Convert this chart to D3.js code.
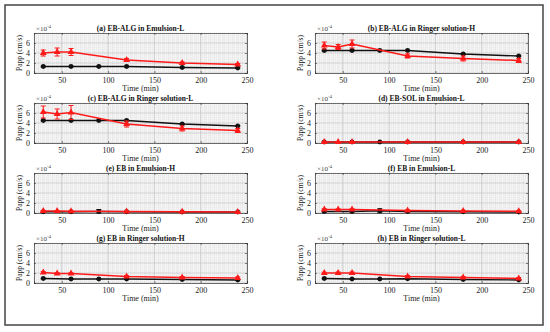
<!DOCTYPE html>
<html>
<head>
<meta charset="utf-8">
<script src="https://cdn.jsdelivr.net/npm/d3@7"></script>
<style>
  body { margin: 0; background: #fff; }
  svg { display: block; font-family: "Liberation Serif", "DejaVu Serif", serif; }
</style>
</head>
<body>
<svg class="board"></svg>
<script>
var timesBlack = [30, 60, 90, 120, 180, 240];
var timesRed = [30, 45, 60, 120, 180, 240];

var titles = [
  '(a) EB-ALG in Emulsion-L',
  '(b) EB-ALG in Ringer solution-H',
  '(c) EB-ALG in Ringer solution-L',
  '(d) EB-SOL in Emulsion-L',
  '(e) EB in Emulsion-H',
  '(f) EB in Emulsion-L',
  '(g) EB in Ringer solution-H',
  '(h) EB in Ringer solution-L'
];

// values in units of 1e-4 cm/s
var blackA = [1.3, 1.3, 1.3, 1.3, 1.1, 1.0];
var redA = [4.0, 4.2, 4.2, 2.6, 2.0, 1.7];
var redErrA = [0.6, 0.8, 0.7, 0.3, 0.2, 0.2];
var blackB = [4.5, 4.5, 4.5, 4.5, 3.8, 3.4];
var redB = [5.5, 5.2, 5.8, 3.4, 2.9, 2.5];
var redErrB = [0.7, 0.5, 0.8, 0.4, 0.5, 0.4];
var blackC = [4.5, 4.5, 4.5, 4.5, 3.8, 3.4];
var redC = [6.2, 5.8, 6.1, 3.8, 2.9, 2.5];
var redErrC = [1.2, 1.0, 1.4, 0.6, 0.5, 0.4];
var blackD = [0.2, 0.2, 0.2, 0.2, 0.2, 0.2];
var redD = [0.2, 0.2, 0.2, 0.2, 0.2, 0.2];
var redErrD = [0.05, 0.05, 0.05, 0.05, 0.05, 0.05];
var blackE = [0.25, 0.25, 0.3, 0.25, 0.2, 0.2];
var redE = [0.4, 0.4, 0.35, 0.3, 0.25, 0.2];
var redErrE = [0.1, 0.1, 0.1, 0.1, 0.1, 0.1];
var blackF = [0.3, 0.3, 0.45, 0.3, 0.25, 0.2];
var redF = [0.7, 0.7, 0.7, 0.5, 0.4, 0.35];
var redErrF = [0.15, 0.1, 0.15, 0.1, 0.1, 0.1];
var blackG = [0.9, 0.8, 0.8, 0.8, 0.7, 0.6];
var redG = [2.1, 1.9, 1.9, 1.3, 1.1, 1.0];
var redErrG = [0.2, 0.15, 0.15, 0.2, 0.2, 0.2];
var blackH = [0.9, 0.8, 0.8, 0.85, 0.7, 0.6];
var redH = [2.0, 2.0, 2.0, 1.3, 1.1, 0.9];
var redErrH = [0.15, 0.2, 0.2, 0.2, 0.2, 0.2];

var blackErr = [0.1, 0.1, 0.4, 0.1, 0.1, 0.1];
var blackErrB = [0.1, 0.1, 0.1, 0.1, 0.1, 0.1];

var blackSeries = [blackA, blackB, blackC, blackD, blackE, blackF, blackG, blackH];
var blackErrs = [blackErrB, blackErrB, blackErrB, blackErrB, blackErr, blackErr, blackErrB, blackErrB];
var redSeries = [redA, redB, redC, redD, redE, redF, redG, redH];
var redErrs = [redErrA, redErrB, redErrC, redErrD, redErrE, redErrF, redErrG, redErrH];

var xTicks = [50, 100, 150, 200, 250];
var yTicks = [0, 2, 4, 6];

var settings = {
  width: 550,
  height: 332,
  colLeft: [34, 315],
  plotWidth: 213,
  rowTop: [33, 103, 173, 243],
  plotHeight: 40
};

var svg = d3.select('.board')
  .attr('width', settings.width)
  .attr('height', settings.height);

// outer frame
svg.append('rect')
  .attr('x', 5).attr('y', 5)
  .attr('width', 538).attr('height', 320)
  .attr('fill', 'none')
  .attr('stroke', '#444')
  .attr('stroke-width', 1.5);

function drawPanel(i) {
  var x0 = settings.colLeft[i % 2];
  var y0 = settings.rowTop[Math.floor(i / 2)];
  var x = d3.scaleLinear().domain([20, 250]).range([x0, x0 + settings.plotWidth]);
  var y = d3.scaleLinear().domain([0, 8]).range([y0 + settings.plotHeight, y0]);
  var g = svg.append('g');

  g.append('rect')
    .attr('x', x0).attr('y', y0)
    .attr('width', settings.plotWidth).attr('height', settings.plotHeight)
    .attr('fill', '#f5f5f5');

  // minor grid
  g.selectAll('.mx').data(d3.range(20, 251, 5)).enter()
    .append('line')
    .attr('x1', function(d) { return x(d); }).attr('x2', function(d) { return x(d); })
    .attr('y1', y0).attr('y2', y0 + settings.plotHeight)
    .attr('stroke', '#d4d4d4').attr('stroke-width', 0.5)
    .attr('stroke-dasharray', '1,1');
  g.selectAll('.my').data(d3.range(0, 8.01, 0.4)).enter()
    .append('line')
    .attr('x1', x0).attr('x2', x0 + settings.plotWidth)
    .attr('y1', function(d) { return y(d); }).attr('y2', function(d) { return y(d); })
    .attr('stroke', '#d4d4d4').attr('stroke-width', 0.5)
    .attr('stroke-dasharray', '1,1');
  // major grid
  g.selectAll('.gx').data(xTicks).enter()
    .append('line')
    .attr('x1', function(d) { return x(d); }).attr('x2', function(d) { return x(d); })
    .attr('y1', y0).attr('y2', y0 + settings.plotHeight)
    .attr('stroke', '#c0c0c0').attr('stroke-width', 0.6);
  g.selectAll('.gy').data(yTicks).enter()
    .append('line')
    .attr('x1', x0).attr('x2', x0 + settings.plotWidth)
    .attr('y1', function(d) { return y(d); }).attr('y2', function(d) { return y(d); })
    .attr('stroke', '#c0c0c0').attr('stroke-width', 0.6);

  // axes
  var xAxis = d3.axisBottom(x).tickValues(xTicks).tickSize(-2).tickPadding(4);
  var yAxis = d3.axisLeft(y).tickValues(yTicks).tickSize(-2).tickPadding(4);
  var ax = g.append('g').attr('transform', 'translate(0,' + (y0 + settings.plotHeight) + ')').call(xAxis);
  var ay = g.append('g').attr('transform', 'translate(' + x0 + ',0)').call(yAxis);
  var ar = g.append('g').attr('transform', 'translate(' + (x0 + settings.plotWidth) + ',0)')
    .call(d3.axisRight(y).tickValues(yTicks).tickSize(-2).tickFormat(''));
  var at = g.append('g').attr('transform', 'translate(0,' + y0 + ')')
    .call(d3.axisTop(x).tickValues(xTicks).tickSize(-2).tickFormat(''));
  [ax, ay, ar, at].forEach(function(a) {
    a.select('.domain').attr('stroke', '#333').attr('stroke-width', 0.7);
    a.selectAll('.tick line').attr('stroke', '#333').attr('stroke-width', 0.6);
    a.selectAll('text')
      .attr('font-family', '"Liberation Serif", serif')
      .attr('font-size', 8)
      .attr('fill', '#222');
  });

  g.append('text')
    .attr('x', x0 + 2).attr('y', y0 - 2.5)
    .attr('font-size', 7).attr('fill', '#444')
    .html('\u00d710<tspan dy="-3" font-size="5">-4</tspan>');

  g.append('text')
    .attr('x', x0 + settings.plotWidth / 2).attr('y', y0 - 2.5)
    .attr('text-anchor', 'middle')
    .attr('font-size', 7.5).attr('font-weight', 'bold').attr('fill', '#111')
    .text(titles[i]);

  g.append('text')
    .attr('x', x0 + settings.plotWidth / 2).attr('y', y0 + settings.plotHeight + 18)
    .attr('text-anchor', 'middle')
    .attr('font-size', 8).attr('fill', '#222')
    .text('Time (min)');

  g.append('text')
    .attr('transform', 'translate(' + (x0 - 12) + ',' + (y0 + settings.plotHeight / 2) + ') rotate(-90)')
    .attr('text-anchor', 'middle')
    .attr('font-size', 7.5).attr('fill', '#222')
    .text('Papp (cm/s)');

  var line = d3.line()
    .x(function(d) { return x(d[0]); })
    .y(function(d) { return y(d[1]); });

  var blk = d3.zip(timesBlack, blackSeries[i], blackErrs[i]);
  var red = d3.zip(timesRed, redSeries[i], redErrs[i]);

  function errorBars(data, color) {
    var eb = g.append('g').attr('stroke', color).attr('stroke-width', 1);
    data.forEach(function(d) {
      var top = y(d[1] + d[2]), bot = y(Math.max(0, d[1] - d[2]));
      eb.append('line').attr('x1', x(d[0])).attr('x2', x(d[0])).attr('y1', top).attr('y2', bot);
      eb.append('line').attr('x1', x(d[0]) - 2.5).attr('x2', x(d[0]) + 2.5).attr('y1', top).attr('y2', top);
      eb.append('line').attr('x1', x(d[0]) - 2.5).attr('x2', x(d[0]) + 2.5).attr('y1', bot).attr('y2', bot);
    });
  }

  g.append('path').datum(blk)
    .attr('d', line).attr('fill', 'none')
    .attr('stroke', '#111').attr('stroke-width', 1.4);
  errorBars(blk, '#111');
  g.selectAll('.bp').data(blk).enter()
    .append('circle')
    .attr('cx', function(d) { return x(d[0]); })
    .attr('cy', function(d) { return y(d[1]); })
    .attr('r', 2.4).attr('fill', '#111');

  g.append('path').datum(red)
    .attr('d', line).attr('fill', 'none')
    .attr('stroke', '#ff1a1a').attr('stroke-width', 1.5);
  errorBars(red, '#ff1a1a');
  g.selectAll('.rp').data(red).enter()
    .append('path')
    .attr('transform', function(d) { return 'translate(' + x(d[0]) + ',' + y(d[1]) + ')'; })
    .attr('d', d3.symbol().type(d3.symbolTriangle).size(20))
    .attr('fill', '#ff1a1a');
}

for (var i = 0; i < 8; i++) {
  drawPanel(i);
}
</script>
</body>
</html>
